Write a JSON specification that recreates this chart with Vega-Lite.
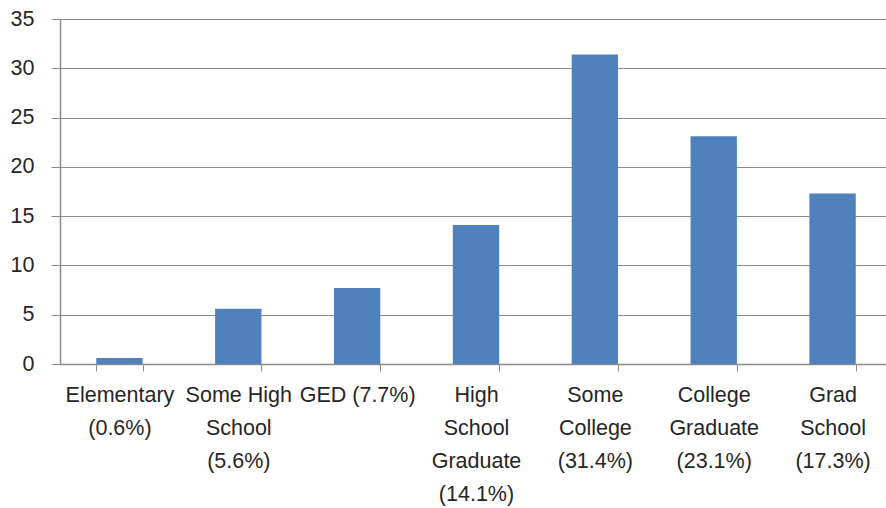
{
  "$schema": "https://vega.github.io/schema/vega-lite/v6.json",
  "width": 832,
  "height": 345,
  "autosize": {"type": "none"},
  "padding": {"left": 60, "top": 19, "right": 0, "bottom": 144},
  "background": "white",
  "data": {
    "values": [
      {"category": "Elementary|(0.6%)", "value": 0.6},
      {"category": "Some High|School|(5.6%)", "value": 5.6},
      {"category": "GED (7.7%)", "value": 7.7},
      {"category": "High|School|Graduate|(14.1%)", "value": 14.1},
      {"category": "Some|College|(31.4%)", "value": 31.4},
      {"category": "College|Graduate|(23.1%)", "value": 23.1},
      {"category": "Grad|School|(17.3%)", "value": 17.3}
    ]
  },
  "config": {
    "view": {"stroke": null},
    "font": "Liberation Sans"
  },
  "mark": {"type": "bar", "color": "#4F81BD"},
  "encoding": {
    "x": {
      "field": "category",
      "type": "nominal",
      "sort": null,
      "scale": {"paddingInner": 0.61, "paddingOuter": 0.305},
      "axis": {
        "title": null,
        "labelAngle": 0,
        "labelExpr": "split(datum.label, '|')",
        "labelFont": "Liberation Sans",
        "labelFontSize": 21.5,
        "labelLineHeight": 33,
        "labelColor": "#262626",
        "labelPadding": 13,
        "labelBaseline": "top",
        "labelLimit": 0,
        "tickBand": "extent",
        "tickSize": 7,
        "tickColor": "#8c8c8c",
        "domainColor": "#8c8c8c",
        "domainWidth": 1.5,
        "grid": false
      }
    },
    "y": {
      "field": "value",
      "type": "quantitative",
      "scale": {"domain": [0, 35], "nice": false},
      "axis": {
        "title": null,
        "values": [0, 5, 10, 15, 20, 25, 30, 35],
        "labelFont": "Liberation Sans",
        "labelFontSize": 21.5,
        "labelColor": "#262626",
        "labelPadding": 17,
        "tickSize": 9,
        "tickColor": "#8c8c8c",
        "domainColor": "#8c8c8c",
        "domainWidth": 1.5,
        "grid": true,
        "gridColor": "#8c8c8c",
        "gridWidth": 1.2
      }
    }
  }
}
